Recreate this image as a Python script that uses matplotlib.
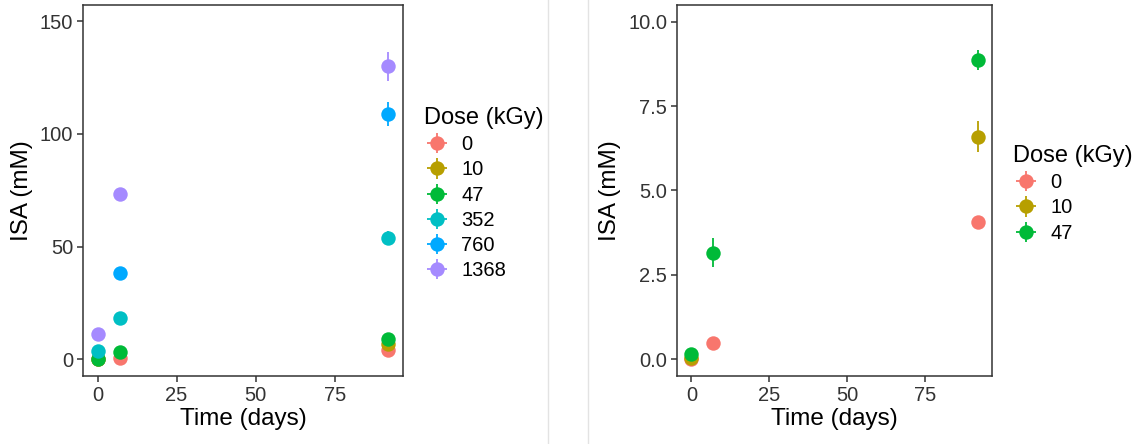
import numpy as np
import matplotlib
matplotlib.use("Agg")
import matplotlib.pyplot as plt
from matplotlib.lines import Line2D

plt.rcParams['font.family'] = ['Liberation Sans', 'DejaVu Sans']

# ---- data ----
doses = ['0', '10', '47', '352', '760', '1368']
colors = ['#F8766D', '#B79F00', '#00BA38', '#00BFC4', '#00A9FF', '#A58AFF']

# per dose: days, ISA mean (mM), error
days_all = {
    '0':    [0, 7, 92],
    '10':   [0, 92],
    '47':   [0, 7, 92],
    '352':  [0, 7, 92],
    '760':  [7, 92],
    '1368': [0, 7, 92],
}
isa_all = {
    '0':    [0.0, 0.48, 4.07],
    '10':   [0.02, 6.6],
    '47':   [0.15, 3.15, 8.87],
    '352':  [3.6, 18.2, 54.0],
    '760':  [38.2, 109.0],
    '1368': [11.1, 73.3, 130.0],
}
err_all = {
    '0':    [0.0, 0.05, 0.12],
    '10':   [0.02, 0.45],
    '47':   [0.1, 0.43, 0.3],
    '352':  [0.3, 0.5, 3.0],
    '760':  [0.5, 5.3],
    '1368': [0.4, 0.5, 6.4],
}

left_doses = doses
right_doses = ['0', '10', '47']

ms = 10.4
W, H = 1137, 444
fig = plt.figure(figsize=(W / 100, H / 100), dpi=100)


def style_axes(ax):
    for s in ax.spines.values():
        s.set_color('#333333')
        s.set_linewidth(1.1)
    ax.tick_params(axis='both', direction='out', length=4, width=1.1,
                   color='#333333', labelsize=14.5, labelcolor='#333333', pad=3)
    ax.set_xlabel('Time (days)', fontsize=17.5, color='black', labelpad=2)
    ax.set_ylabel('ISA (mM)', fontsize=17.5, color='black', labelpad=5)


def draw_panel(ax, dose_list):
    for d in dose_list:
        c = colors[doses.index(d)]
        ax.errorbar(days_all[d], isa_all[d], yerr=err_all[d], fmt='o',
                    color=c, ms=ms, elinewidth=1.3, capsize=0,
                    markeredgewidth=0, zorder=3)


def add_legend(ax, dose_list, x, y):
    handles = []
    for d in dose_list:
        c = colors[doses.index(d)]
        h = ax.errorbar([np.nan], [np.nan], xerr=[1], yerr=[1], fmt='o',
                        color=c, ms=ms, elinewidth=1.3, capsize=0,
                        markeredgewidth=0)
        handles.append(h)
    leg = fig.legend(handles, dose_list, title='Dose (kGy)', loc='upper left',
                     bbox_to_anchor=(x / W, 1 - y / H), frameon=False,
                     fontsize=14.5, title_fontsize=17, borderpad=0,
                     handlelength=1.3, handletextpad=0.55, labelspacing=0.31,
                     alignment='left', borderaxespad=0)
    return leg


# left panel
ax1 = fig.add_axes([83 / W, 68 / H, 320 / W, 371 / H])
draw_panel(ax1, left_doses)
ax1.set_xlim(-4.6, 96.6)
ax1.set_ylim(-7.5, 157.3)
ax1.set_xticks([0, 25, 50, 75])
ax1.set_yticks([0, 50, 100, 150])
style_axes(ax1)
add_legend(ax1, left_doses, 424, 107)

# right panel
ax2 = fig.add_axes([677 / W, 68 / H, 315 / W, 371 / H])
draw_panel(ax2, right_doses)
ax2.set_xlim(-4.6, 96.6)
ax2.set_ylim(-0.5, 10.5)
ax2.set_xticks([0, 25, 50, 75])
ax2.set_yticks([0, 2.5, 5, 7.5, 10])
ax2.yaxis.set_major_formatter(matplotlib.ticker.FormatStrFormatter('%.1f'))
style_axes(ax2)
add_legend(ax2, right_doses, 1013, 145)

# faint separators between the two screenshots
for xs in (548, 588):
    fig.add_artist(Line2D([xs / W, xs / W], [0, 1], color='#E3E3E3', lw=1))

fig.savefig('out.png', dpi=100)
